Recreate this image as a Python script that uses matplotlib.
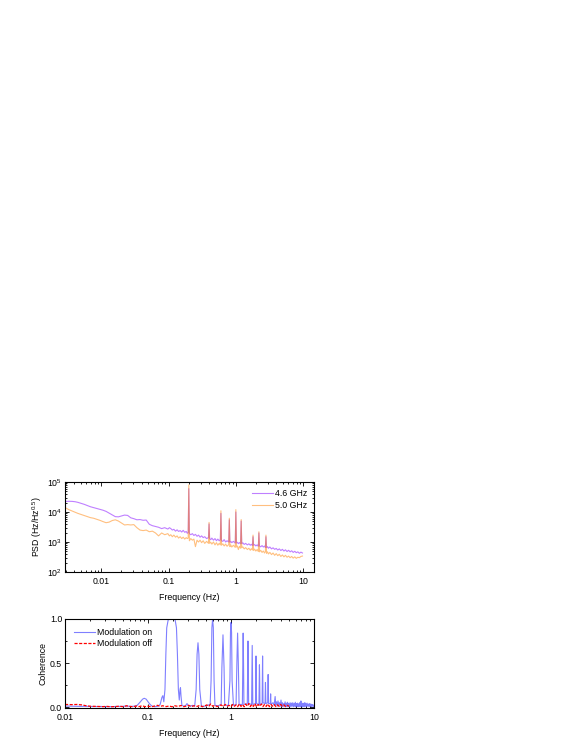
import matplotlib
matplotlib.use("Agg")
import matplotlib.pyplot as plt
from matplotlib.ticker import LogLocator, FixedLocator, NullFormatter

plt.rcParams['font.family'] = ['Liberation Sans', 'DejaVu Sans']
plt.rcParams['mathtext.fontset'] = 'custom'
plt.rcParams['mathtext.rm'] = 'Liberation Sans'
fs = 6.3

# ======== PSD data (top panel) ========
psd_freq = [0.0030, 0.0033, 0.0037, 0.0041, 0.0045, 0.0050, 0.0056, 0.0062, 0.0069, 0.0077,
            0.0086, 0.0095, 0.0106, 0.0118, 0.0131, 0.0146, 0.0162, 0.0180, 0.0200, 0.0222,
            0.0247, 0.0275, 0.0305, 0.0339, 0.0377, 0.0419, 0.0466, 0.0518, 0.0576, 0.0640,
            0.0711, 0.0790, 0.0878,
            0.0976, 0.103, 0.108, 0.114, 0.120, 0.127, 0.134, 0.141, 0.149, 0.157,
            0.165, 0.174, 0.183, 0.190, 0.196, 0.200, 0.204, 0.214, 0.226, 0.238,
            0.251, 0.265, 0.279, 0.294, 0.310, 0.327, 0.345, 0.368, 0.392, 0.400,
            0.408, 0.424, 0.44, 0.465, 0.49, 0.515, 0.54, 0.565, 0.588, 0.600,
            0.612, 0.64, 0.67, 0.705, 0.74, 0.784, 0.800, 0.816, 0.84, 0.87,
            0.92, 0.98, 1.00, 1.02, 1.05, 1.09, 1.13, 1.176, 1.200, 1.224,
            1.27, 1.33, 1.40, 1.48, 1.56, 1.64, 1.70, 1.764, 1.800, 1.836,
            1.90, 1.98, 2.07, 2.156, 2.200, 2.244, 2.34, 2.45, 2.56, 2.67,
            2.744, 2.800, 2.856, 2.95, 3.05, 3.20, 3.39, 3.57, 3.77, 3.98,
            4.19, 4.42, 4.66, 4.92, 5.18, 5.46, 5.76, 6.07, 6.40, 6.75,
            7.11, 7.50, 7.90, 8.33, 8.78, 9.26, 9.76]

psd_46 = [22500, 22800, 22600, 22000, 21000, 19500, 18000, 16500, 15000, 14000,
          13000, 12200, 11500, 10500, 9200, 8000, 7000, 6900, 7400, 7900,
          7700, 6400, 6000, 5500, 5600, 5300, 5400, 3900, 3500, 3300,
          3100, 2800, 3000,
          2700, 3000, 2800, 2500, 2650, 2300, 2550, 2250, 2400, 2150,
          2450, 2100, 2250, 1950, 2100, 60000, 1900, 1750, 1900, 1650,
          1800, 1550, 1700, 1450, 1600, 1400, 1500, 1300, 1400, 4000,
          1300, 1200, 1350, 1150, 1300, 1100, 1250, 1100, 1200, 9000,
          1100, 1050, 1200, 1000, 1100, 1000, 5500, 980, 1050, 950,
          1050, 920, 10000, 930, 980, 880, 960, 870, 5000, 880,
          940, 830, 900, 800, 870, 780, 840, 760, 1500, 780,
          820, 740, 800, 720, 2000, 740, 690, 760, 680, 730,
          660, 1500, 650, 700, 620, 680, 590, 640, 570, 610,
          540, 590, 520, 570, 500, 550, 480, 530, 470, 510,
          450, 490, 440, 470, 420, 460, 430]

psd_50 = [13500, 12000, 10800, 9800, 9000, 8300, 7600, 7000, 6500, 6200,
          5700, 5300, 4800, 4400, 4600, 5200, 5500, 5000, 4300, 3700,
          3800, 3700, 3800, 3000, 2500, 2400, 2500, 2200, 2300, 2000,
          1600, 2000, 1750,
          1900, 1600, 1750, 1500, 1700, 1450, 1600, 1350, 1500, 1300,
          1450, 1250, 1400, 1300, 1350, 80000, 1100, 1300, 1150, 1250,
          700, 1150, 1000, 1150, 950, 1100, 900, 1050, 900, 4500,
          900, 980, 850, 1000, 800, 950, 780, 900, 800, 11000,
          780, 870, 740, 850, 720, 820, 6200, 700, 800, 680,
          780, 660, 12000, 680, 740, 560, 720, 620, 5600, 640,
          690, 590, 650, 560, 620, 530, 600, 540, 1700, 520,
          580, 500, 560, 480, 2200, 470, 530, 450, 500, 430,
          470, 1700, 420, 470, 400, 450, 380, 430, 360, 410,
          350, 390, 330, 370, 320, 360, 310, 340, 300, 330,
          290, 320, 285, 310, 300, 330, 340]

# ======== Coherence data (bottom panel) ========
coh_on_freq = [0.010, 0.012, 0.015, 0.018, 0.022, 0.027, 0.033, 0.040, 0.048, 0.055,
               0.062, 0.068, 0.074, 0.080, 0.086, 0.090, 0.095, 0.100, 0.106, 0.112,
               0.120, 0.130, 0.140, 0.147, 0.151, 0.155, 0.160, 0.164, 0.168, 0.175,
               0.185, 0.200, 0.212, 0.220, 0.226, 0.232, 0.238, 0.243, 0.246, 0.250,
               0.256, 0.270, 0.285, 0.295, 0.305, 0.320, 0.345, 0.365, 0.380, 0.390,
               0.400, 0.410, 0.420, 0.440, 0.480, 0.520, 0.560, 0.575, 0.588, 0.600,
               0.612, 0.625, 0.640, 0.700, 0.760, 0.776, 0.800, 0.824, 0.840, 0.930,
               0.970, 0.985, 1.000, 1.015, 1.030, 1.070, 1.150, 1.176, 1.200, 1.224,
               1.250, 1.370, 1.385, 1.400, 1.415, 1.430, 1.570, 1.585, 1.600, 1.615,
               1.630, 1.770, 1.785, 1.800, 1.815, 1.830, 1.970, 1.985, 2.000, 2.015,
               2.030, 2.170, 2.185, 2.200, 2.215, 2.230, 2.370, 2.385, 2.400, 2.415,
               2.430, 2.570, 2.585, 2.600, 2.615, 2.630, 2.770, 2.785, 2.800, 2.815,
               2.830, 2.970, 2.985, 3.000, 3.015, 3.030,
               3.20, 3.30, 3.40, 3.45, 3.52, 3.60, 3.68, 3.76, 3.84, 3.92,
               4.00, 4.08, 4.16, 4.24, 4.32, 4.40, 4.48, 4.56, 4.64, 4.72,
               4.80, 4.88, 4.96, 5.05, 5.15, 5.25, 5.35, 5.45, 5.55, 5.65,
               5.75, 5.85, 5.95, 6.05, 6.15, 6.25, 6.35, 6.45, 6.55, 6.65,
               6.75, 6.85, 6.95, 7.05, 7.15, 7.25, 7.35, 7.45, 7.55, 7.65,
               7.75, 7.85, 7.95, 8.10, 8.25, 8.40, 8.55, 8.70, 8.85, 9.00,
               9.15, 9.30, 9.45, 9.60, 9.75, 9.90, 10.0]

coh_on = [0.012, 0.010, 0.008, 0.009, 0.006, 0.007, 0.005, 0.006, 0.008, 0.012,
          0.008, 0.010, 0.020, 0.055, 0.090, 0.100, 0.090, 0.060, 0.030, 0.010,
          0.005, 0.008, 0.030, 0.110, 0.130, 0.060, 0.200, 0.600, 0.900, 0.990,
          1.000, 1.000, 0.990, 0.900, 0.600, 0.200, 0.080, 0.200, 0.220, 0.120,
          0.020, 0.010, 0.020, 0.040, 0.020, 0.010, 0.020, 0.010, 0.200, 0.600,
          0.730, 0.600, 0.200, 0.010, 0.010, 0.020, 0.030, 0.300, 0.900, 1.000,
          0.900, 0.300, 0.020, 0.015, 0.030, 0.450, 0.820, 0.450, 0.020, 0.020,
          0.300, 0.850, 0.960, 0.850, 0.300, 0.020, 0.030, 0.500, 0.840, 0.500,
          0.030, 0.030, 0.500, 0.840, 0.500, 0.030, 0.040, 0.450, 0.750, 0.450,
          0.040, 0.030, 0.400, 0.700, 0.400, 0.030, 0.040, 0.350, 0.580, 0.350,
          0.040, 0.030, 0.300, 0.480, 0.300, 0.030, 0.040, 0.350, 0.580, 0.350,
          0.050, 0.040, 0.180, 0.280, 0.180, 0.040, 0.050, 0.220, 0.370, 0.220,
          0.040, 0.040, 0.090, 0.150, 0.090, 0.030,
          0.050, 0.020, 0.120, 0.030, 0.060, 0.010, 0.070, 0.020, 0.050, 0.010,
          0.080, 0.010, 0.050, 0.005, 0.040, 0.010, 0.060, 0.005, 0.045, 0.010,
          0.055, 0.005, 0.040, 0.010, 0.050, 0.003, 0.045, 0.010, 0.050, 0.005,
          0.040, 0.010, 0.055, 0.003, 0.040, 0.010, 0.045, 0.005, 0.035, 0.010,
          0.050, 0.005, 0.070, 0.010, 0.040, 0.003, 0.045, 0.010, 0.035, 0.005,
          0.050, 0.010, 0.040, 0.005, 0.045, 0.010, 0.035, 0.005, 0.040, 0.010,
          0.035, 0.005, 0.030, 0.010, 0.025, 0.005, 0.020]

coh_off_freq = [0.010, 0.012, 0.014, 0.016, 0.018, 0.020, 0.024, 0.028, 0.032, 0.036,
                0.040, 0.045, 0.050, 0.055, 0.060, 0.066, 0.072, 0.078, 0.085, 0.092,
                0.100, 0.110, 0.120, 0.130, 0.140, 0.150, 0.165, 0.180, 0.195, 0.210,
                0.230, 0.250, 0.270, 0.290, 0.310, 0.330, 0.360, 0.390, 0.420, 0.450,
                0.480, 0.510, 0.540, 0.570, 0.600, 0.640, 0.680, 0.720, 0.760, 0.800,
                0.850, 0.900, 0.950, 1.000, 1.050, 1.100, 1.150, 1.200, 1.260, 1.320,
                1.380, 1.440, 1.500, 1.570, 1.640, 1.710, 1.780, 1.860, 1.940, 2.030,
                2.120, 2.220, 2.320, 2.420, 2.530, 2.650, 2.770, 2.900, 3.030, 3.170,
                3.320, 3.470, 3.630, 3.800, 3.970, 4.150, 4.350, 4.550, 4.760, 5.000]

coh_off = [0.030, 0.028, 0.030, 0.025, 0.015, 0.010, 0.008, 0.005, 0.008, 0.004,
           0.006, 0.010, 0.005, 0.015, 0.008, 0.004, 0.012, 0.006, 0.015, 0.005,
           0.010, 0.004, 0.012, 0.020, 0.008, 0.015, 0.006, 0.012, 0.004, 0.015,
           0.008, 0.018, 0.005, 0.012, 0.020, 0.006, 0.015, 0.008, 0.020, 0.005,
           0.012, 0.025, 0.008, 0.035, 0.010, 0.020, 0.006, 0.015, 0.025, 0.008,
           0.030, 0.010, 0.020, 0.005, 0.030, 0.010, 0.025, 0.005, 0.035, 0.008,
           0.030, 0.004, 0.035, 0.010, 0.040, 0.006, 0.030, 0.008, 0.040, 0.005,
           0.030, 0.010, 0.035, 0.006, 0.030, 0.008, 0.035, 0.005, 0.030, 0.010,
           0.028, 0.006, 0.025, 0.008, 0.030, 0.010, 0.025, 0.006, 0.020, 0.010]

x_ticks = [0.01, 0.1, 1, 10]
x_ticklabels = ["0.01", "0.1", "1", "10"]

fig = plt.figure(figsize=(5.78, 7.48), dpi=100)
ax1 = fig.add_axes([0.1125, 0.2353, 0.4308, 0.1203])
ax2 = fig.add_axes([0.1125, 0.0535, 0.4308, 0.119])

# ---- top panel ----
ax1.plot(psd_freq, psd_46, color="#8000ff", alpha=0.5, lw=0.8, label="4.6 GHz")
ax1.plot(psd_freq, psd_50, color="#ff8000", alpha=0.5, lw=0.8, label="5.0 GHz")
ax1.set_xscale("log")
ax1.set_yscale("log")
ax1.set_xlim(0.0029, 14.5)
ax1.set_ylim(1e2, 1e5)
ax1.set_xticks(x_ticks)
ax1.set_xticklabels(x_ticklabels)
ax1.yaxis.set_major_locator(LogLocator(base=10, numticks=10))
ax1.set_xlabel("Frequency (Hz)", fontsize=fs, labelpad=5)
ax1.set_ylabel(r"PSD (Hz/Hz$^{0.5}$)", fontsize=fs, labelpad=2)
ax1.legend(loc="upper right", frameon=False, fontsize=fs, handlelength=2.4,
           handletextpad=0.2, labelspacing=0.3, borderaxespad=0.4)

# ---- bottom panel ----
ax2.plot(coh_on_freq, coh_on, color="blue", alpha=0.5, lw=0.8, label="Modulation on")
ax2.plot(coh_off_freq, coh_off, color="red", ls=(0, (2.5, 1.2)), lw=0.9, label="Modulation off")
ax2.set_xscale("log")
ax2.set_xlim(0.01, 10)
ax2.set_ylim(-0.01, 1.0)
ax2.set_xticks(x_ticks)
ax2.set_xticklabels(x_ticklabels)
ax2.set_yticks([0.0, 0.5, 1.0])
ax2.set_yticklabels(["0.0", "0.5", "1.0"])
ax2.yaxis.set_minor_locator(FixedLocator([0.25, 0.75]))
ax2.set_xlabel("Frequency (Hz)", fontsize=fs, labelpad=5)
ax2.set_ylabel("Coherence", fontsize=fs, labelpad=2)
ax2.legend(loc="upper left", frameon=False, fontsize=fs, handlelength=2.4,
           handletextpad=0.3, labelspacing=0.3, borderaxespad=0.6)

for ax in (ax1, ax2):
    ax.tick_params(which="both", direction="in", top=True, right=True, labelsize=fs,
                   width=0.6)
    ax.tick_params(axis="x", which="both", pad=3.5)
    ax.tick_params(axis="y", which="both", pad=2)
    ax.tick_params(which="major", length=3)
    ax.tick_params(which="minor", length=1.6)
    ax.xaxis.set_minor_formatter(NullFormatter())
    for s in ax.spines.values():
        s.set_linewidth(0.8)

fig.savefig("out.png", dpi=100)
